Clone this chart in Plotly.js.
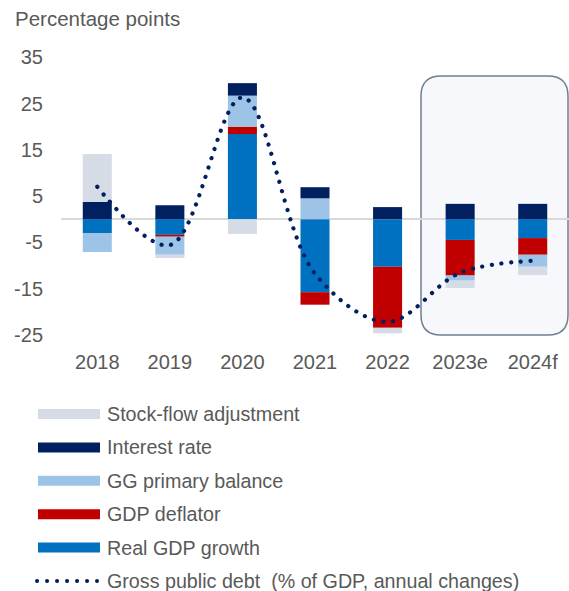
<!DOCTYPE html>
<html>
<head>
<meta charset="utf-8">
<script src="https://cdn.plot.ly/plotly-3.0.1.min.js"></script>
<style>
html,body{margin:0;padding:0;background:#fff;}
#chart{width:569px;height:591px;}
.scatterlayer .js-line{stroke-linecap:round;}
.shapelayer path{stroke-linecap:round;}
</style>
</head>
<body>
<div id="chart"></div>
<script>
// ---- data ----
var years      = ['2018', '2019', '2020', '2021', '2022', '2023e', '2024f'];
var realGdp    = [-3.0, -3.4, 18.4, -15.8, -10.3, -4.5, -4.1];
var deflator   = [0.0, -0.4, 1.6, -2.7, -13.2, -7.7, -3.6];
var ggPrimary  = [-4.1, -3.9, 6.7, 4.5, 0.0, -1.1, -2.6];
var interest   = [3.7, 3.0, 2.7, 2.4, 2.6, 3.3, 3.3];
var stockFlow  = [10.4, -0.7, -3.2, 0.0, -1.2, -1.6, -1.8];
var debtChange = [7.0, -5.6, 26.3, -11.8, -22.2, -11.6, -9.0];
var yTicks     = [-25, -15, -5, 5, 15, 25, 35];

var seriesNames  = ['Real GDP growth', 'GDP deflator', 'GG primary balance', 'Interest rate', 'Stock-flow adjustment'];
var seriesValues = [realGdp, deflator, ggPrimary, interest, stockFlow];
var seriesColors = ['#0070c0', '#c00000', '#9dc3e6', '#002060', '#d6dce5'];
var lineName  = 'Gross public debt  (% of GDP, annual changes)';
var lineColor = '#002060';

// ---- geometry ----
var W = 569, H = 591;
var M = {l: 61, r: 0, t: 48, b: 247};
var plotW = W - M.l - M.r, plotH = H - M.t - M.b;
function px(x) { return (x - M.l) / plotW; }
function py(y) { return (H - M.b - y) / plotH; }

var FONT = 'Liberation Sans, Arial, sans-serif';
var GREY = '#595959';

var traces = [];
traces.push({
  type: 'scatter', mode: 'lines', name: lineName,
  x: years, y: debtChange,
  line: {color: lineColor, width: 4.2, dash: '0.1px,9.6px', shape: 'spline', smoothing: 1},
  hoverinfo: 'skip'
});
for (var i = 0; i < seriesNames.length; i++) {
  traces.push({
    type: 'bar', name: seriesNames[i], x: years, y: seriesValues[i],
    marker: {color: seriesColors[i], line: {width: 0}}
  });
}

// rounded highlight box for forecasts
var bx0 = px(421), bx1 = px(568), by0 = py(335), by1 = py(76);
var rx = 20 / plotW, ry = 20 / plotH;
var boxPath = 'M ' + (bx0 + rx) + ',' + by1 +
  ' L ' + (bx1 - rx) + ',' + by1 +
  ' Q ' + bx1 + ',' + by1 + ' ' + bx1 + ',' + (by1 - ry) +
  ' L ' + bx1 + ',' + (by0 + ry) +
  ' Q ' + bx1 + ',' + by0 + ' ' + (bx1 - rx) + ',' + by0 +
  ' L ' + (bx0 + rx) + ',' + by0 +
  ' Q ' + bx0 + ',' + by0 + ' ' + bx0 + ',' + (by0 + ry) +
  ' L ' + bx0 + ',' + (by1 - ry) +
  ' Q ' + bx0 + ',' + by1 + ' ' + (bx0 + rx) + ',' + by1 + ' Z';

var shapes = [{
  type: 'path', xref: 'paper', yref: 'paper', path: boxPath, layer: 'below',
  fillcolor: '#f6f8fb', line: {color: '#6f7f92', width: 1.5}
}];
var annotations = [{
  xref: 'paper', yref: 'paper', x: px(13), y: py(19), xanchor: 'left', yanchor: 'middle',
  text: 'Percentage points', showarrow: false, font: {family: FONT, size: 20.5, color: GREY}
}];

// manual legend (reversed order, line last)
var legendNames = seriesNames.slice().reverse();
var legendColors = seriesColors.slice().reverse();
var LFS = 19.7;
var ly0 = 414, lstep = 33.4;
for (var k = 0; k < legendNames.length; k++) {
  var yc = ly0 + k * lstep;
  shapes.push({type: 'rect', xref: 'paper', yref: 'paper',
    x0: px(38), x1: px(100), y0: py(yc + 5), y1: py(yc - 5),
    fillcolor: legendColors[k], line: {width: 0}, layer: 'above'});
  annotations.push({xref: 'paper', yref: 'paper', x: px(105), y: py(yc), xanchor: 'left', yanchor: 'middle',
    text: legendNames[k], showarrow: false, font: {family: FONT, size: LFS, color: GREY}});
}
var yl = ly0 + legendNames.length * lstep;
shapes.push({type: 'line', xref: 'paper', yref: 'paper',
  x0: px(37), x1: px(97), y0: py(yl), y1: py(yl),
  line: {color: lineColor, width: 4, dash: '0.1px,9.9px'}, layer: 'above'});
annotations.push({xref: 'paper', yref: 'paper', x: px(105), y: py(yl), xanchor: 'left', yanchor: 'middle',
  text: lineName, showarrow: false, font: {family: FONT, size: LFS, color: GREY}});

var layout = {
  width: W, height: H,
  margin: {l: M.l, r: M.r, t: M.t, b: M.b, pad: 0},
  paper_bgcolor: '#ffffff', plot_bgcolor: 'rgba(0,0,0,0)',
  showlegend: false,
  barmode: 'relative', bargap: 0.6,
  font: {family: FONT, size: 20, color: GREY},
  xaxis: {type: 'category', showgrid: false, showline: false, zeroline: false, ticks: '',
    tickfont: {family: FONT, size: 20, color: GREY}, ticklabelstandoff: 4, fixedrange: true},
  yaxis: {range: [-27, 37], tickvals: yTicks, ticktext: yTicks.map(String), showgrid: false, showline: false,
    zeroline: true, zerolinecolor: '#d9d9d9', zerolinewidth: 2, ticks: '',
    tickfont: {family: FONT, size: 20, color: GREY}, ticklabelstandoff: 17, fixedrange: true},
  shapes: shapes,
  annotations: annotations
};

Plotly.newPlot('chart', traces, layout, {displayModeBar: false, staticPlot: true});
</script>
</body>
</html>
